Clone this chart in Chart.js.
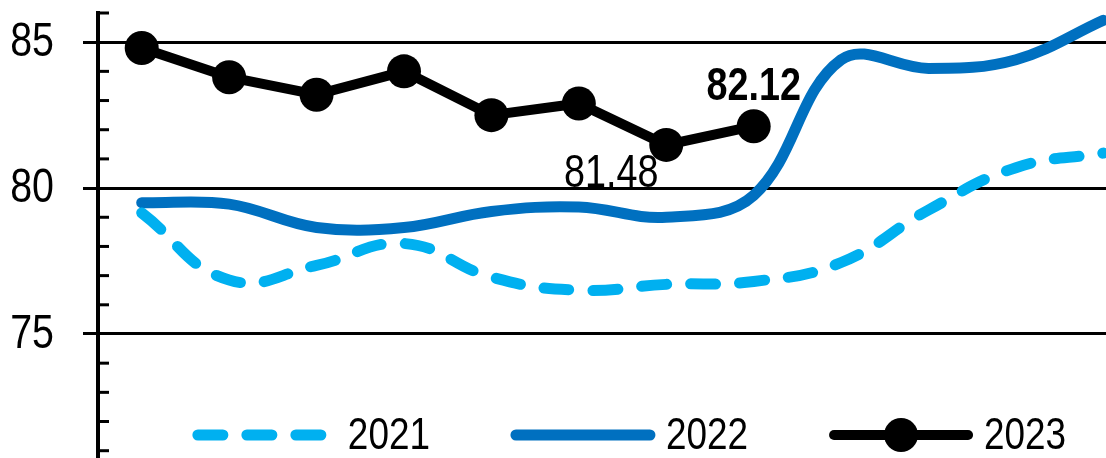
<!DOCTYPE html>
<html>
<head>
<meta charset="utf-8">
<script src="https://cdn.jsdelivr.net/npm/chart.js@4.4.0/dist/chart.umd.min.js"></script>
<style>
  html, body { margin: 0; padding: 0; background: #fff; overflow: hidden; }
  #wrap { width: 1106px; height: 458px; }
</style>
</head>
<body>
<div id="wrap"><canvas id="indexChart"></canvas></div>
<script>
// Dati (un valore per mese)
const months = ['Jan', 'Feb', 'Mar', 'Apr', 'May', 'Jun', 'Jul', 'Aug', 'Sep', 'Oct', 'Nov', 'Dec'];
const seriesNames = ['2021', '2022', '2023'];
const values2021 = [79.15, 76.85, 77.35, 78.1, 76.95, 76.5, 76.7, 76.8, 77.45, 79.25, 80.7, 81.2];
const values2022 = [79.5, 79.45, 78.65, 78.65, 79.2, 79.35, 79.0, 79.75, 84.4, 84.1, 84.4, 85.75];
const values2023 = [84.8, 83.8, 83.2, 84.0, 82.5, 82.9, 81.48, 82.12];
const yTicks = [75, 80, 85];

// Font "narrow": Liberation Sans compressa in orizzontale
const FONT = "'Liberation Sans', Arial, sans-serif";
const NARROW = 0.82;

// Ogni mese diventa un punto {x: indice, y: valore}
const toPoints = values => values.map((v, i) => ({ x: i, y: v, month: months[i] }));

// Scrive un testo compresso orizzontalmente
function narrowText(ctx, text, x, y, font, align, baseline) {
    ctx.save();
    ctx.translate(x, y);
    ctx.scale(NARROW, 1);
    ctx.font = font;
    ctx.textAlign = align;
    ctx.textBaseline = baseline;
    ctx.fillText(text, 0, 0);
    ctx.restore();
}

// Tacche minori sul lato interno dell'asse y ed etichette dei tick
const yAxisExtras = {
    id: 'yAxisExtras',
    beforeDatasetsDraw(chart) {
        const { ctx, chartArea, scales: { y } } = chart;
        ctx.save();
        ctx.strokeStyle = '#000';
        ctx.lineWidth = 3;
        for (let v = Math.ceil(y.min); v <= y.max; v++) {
            if (v % 5 === 0) continue;
            const py = y.getPixelForValue(v);
            ctx.beginPath();
            ctx.moveTo(chartArea.left, py);
            ctx.lineTo(chartArea.left + 11, py);
            ctx.stroke();
        }
        ctx.fillStyle = '#000';
        y.ticks.forEach(t => {
            narrowText(ctx, String(t.value), 54, y.getPixelForValue(t.value) + 1, '48px ' + FONT, 'right', 'middle');
        });
        ctx.restore();
    }
};

// Etichette per il minimo e l'ultimo valore del 2023
const pointLabels = {
    id: 'pointLabels',
    afterDatasetsDraw(chart) {
        const { ctx } = chart;
        const meta = chart.getDatasetMeta(2);
        const last = values2023.length - 1;
        const minIdx = values2023.indexOf(Math.min(...values2023));
        ctx.save();
        ctx.fillStyle = '#000';

        const pLast = meta.data[last];
        narrowText(ctx, values2023[last].toFixed(2), pLast.x, pLast.y - 26, 'bold 46px ' + FONT, 'center', 'alphabetic');

        const pMin = meta.data[minIdx];
        ctx.beginPath();
        ctx.rect(0, 0, chart.width, 190);
        ctx.clip();
        narrowText(ctx, values2023[minIdx].toFixed(2), pMin.x - 55, pMin.y + 42, '46px ' + FONT, 'center', 'alphabetic');
        ctx.restore();
    }
};

// Legenda disegnata dentro l'area del grafico, in basso
const customLegend = {
    id: 'customLegend',
    afterDraw(chart) {
        const { ctx } = chart;
        const sample = 146, textGap = 10, itemGap = 80, cy = 435, cx = 629;
        const font = '45px ' + FONT;
        ctx.save();
        ctx.font = font;
        const items = chart.data.datasets.map(ds => ({ ds, w: sample + textGap + ctx.measureText(ds.label).width * NARROW }));
        const total = items.reduce((s, it) => s + it.w, 0) + itemGap * (items.length - 1);
        let x = cx - total / 2;
        items.forEach(({ ds, w }) => {
            ctx.strokeStyle = ds.borderColor;
            ctx.lineWidth = ds.borderWidth;
            ctx.lineCap = 'round';
            ctx.setLineDash(ds.borderDash || []);
            ctx.beginPath();
            ctx.moveTo(x + 6, cy);
            ctx.lineTo(x + sample - 6, cy);
            ctx.stroke();
            ctx.setLineDash([]);
            if (ds.pointRadius) {
                ctx.fillStyle = ds.pointBackgroundColor;
                ctx.beginPath();
                ctx.arc(x + sample / 2, cy, ds.pointRadius, 0, Math.PI * 2);
                ctx.fill();
            }
            ctx.fillStyle = '#000';
            narrowText(ctx, ds.label, x + sample + textGap, cy + 2, font, 'left', 'middle');
            x += w + itemGap;
        });
        ctx.restore();
    }
};

const ctx = document.getElementById('indexChart').getContext('2d');

new Chart(ctx, {
    type: 'line',
    data: {
        datasets: [{
            label: seriesNames[0],
            data: toPoints(values2021),
            borderColor: '#00B0F0',
            borderWidth: 11,
            borderDash: [25, 24],
            borderCapStyle: 'round',
            tension: 0.45,
            pointRadius: 0
        }, {
            label: seriesNames[1],
            data: toPoints(values2022),
            borderColor: '#0070C0',
            borderWidth: 11,
            borderCapStyle: 'round',
            tension: 0.38,
            pointRadius: 0
        }, {
            label: seriesNames[2],
            data: toPoints(values2023),
            borderColor: '#000',
            borderWidth: 10,
            tension: 0,
            pointRadius: 17,
            pointBorderWidth: 0,
            pointBackgroundColor: '#000'
        }]
    },
    options: {
        responsive: true,
        maintainAspectRatio: false,
        animation: false,
        layout: { autoPadding: false, padding: { top: 13, right: 0, bottom: 0, left: 0 } },
        plugins: {
            legend: { display: false },
            tooltip: { enabled: false }
        },
        scales: {
            x: { type: 'linear', min: -0.5, max: 11.03, display: false },
            y: {
                min: 70.75,
                max: 86,
                afterBuildTicks: scale => { scale.ticks = yTicks.map(v => ({ value: v })); },
                afterFit: scale => { scale.width = 98; scale.paddingTop = 0; scale.paddingBottom = 0; },
                border: { display: true, color: '#000', width: 4 },
                grid: { color: '#000', lineWidth: 3, tickLength: 15, tickColor: '#000', tickWidth: 3 },
                ticks: { color: 'rgba(0,0,0,0)', padding: 28, font: { family: FONT, size: 48 } }
            }
        }
    },
    plugins: [yAxisExtras, pointLabels, customLegend]
});
</script>
</body>
</html>
